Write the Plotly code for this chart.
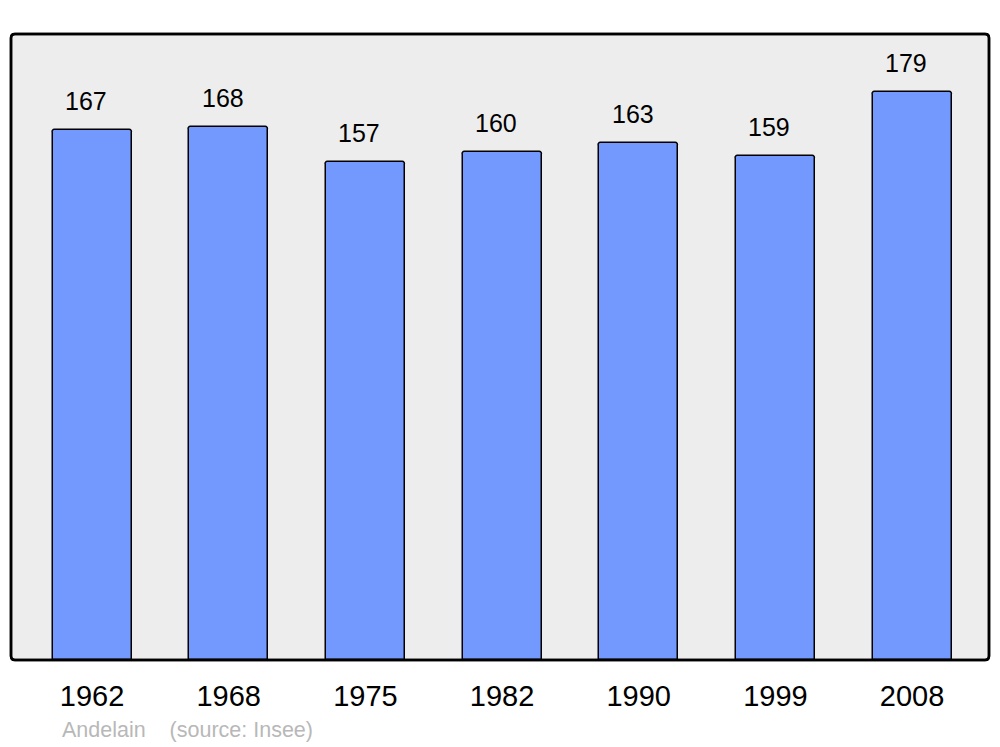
import plotly.graph_objects as go

years = ["1962", "1968", "1975", "1982", "1990", "1999", "2008"]
population = [167, 168, 157, 160, 163, 159, 179]
commune = "Andelain"
source = "(source: Insee)"

FONT = "Liberation Sans, Arial, sans-serif"

fig = go.Figure()
fig.add_trace(go.Bar(
    x=years, y=population,
    width=0.578,
    marker=dict(color="#7399ff", line=dict(color="#000000", width=1.5), cornerradius=3),
    hoverinfo="skip",
))

for i, v in enumerate(population):
    fig.add_annotation(x=i, y=v, text=str(v), showarrow=False,
                       yanchor="bottom", yshift=13, xshift=-6,
                       font=dict(family=FONT, size=25, color="#000000"))

fig.add_annotation(xref="paper", yref="paper", x=0.0505, y=-0.112,
                   xanchor="left", yanchor="middle", showarrow=False,
                   text=commune + "\u00a0\u00a0\u00a0\u00a0" + source,
                   font=dict(family=FONT, size=21.5, color="#b8b8b8"))

# rounded plot frame
rx, ry = 4 / 978, 4 / 626
path = (f"M {rx},0 L {1-rx},0 Q 1,0 1,{ry} L 1,{1-ry} Q 1,1 {1-rx},1 "
        f"L {rx},1 Q 0,1 0,{1-ry} L 0,{ry} Q 0,0 {rx},0 Z")
fig.add_shape(type="path", xref="paper", yref="paper", path=path,
              fillcolor="#ededed", line=dict(color="#000000", width=2.5), layer="below")
fig.add_shape(type="path", xref="paper", yref="paper", path=path,
              fillcolor="rgba(0,0,0,0)", line=dict(color="#000000", width=2.5), layer="above")

fig.update_layout(
    width=1000, height=747,
    margin=dict(l=11, r=11, t=34, b=87),
    paper_bgcolor="#ffffff", plot_bgcolor="#ffffff",
    showlegend=False,
    font=dict(family=FONT),
    xaxis=dict(type="category", range=[-0.593, 6.563], showgrid=False, zeroline=False,
               showline=False, ticks="", ticklabelstandoff=16,
               tickfont=dict(family=FONT, size=29, color="#000000"),
               fixedrange=True),
    yaxis=dict(range=[0, 197.3], visible=False, fixedrange=True),
    bargap=0,
)

fig.write_html("out.html", config={"displayModeBar": False},
               post_script="document.body.style.margin='0';document.body.style.overflow='hidden';")
